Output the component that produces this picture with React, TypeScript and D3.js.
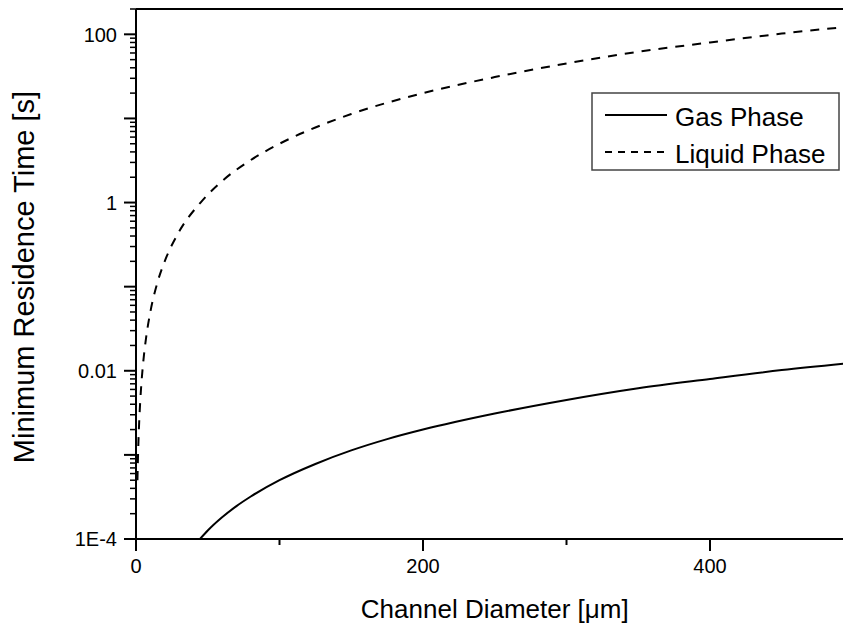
import { useEffect, useRef } from 'react';
import * as d3 from 'd3';

// values
const gasDiameter = [44.6, 50, 60, 70, 80, 100, 125, 150, 175, 200, 250, 300, 350, 400, 450, 500];
const gasTime = [1.0e-4, 1.26e-4, 1.81e-4, 2.46e-4, 3.2e-4, 5.0e-4, 7.8e-4, 1.13e-3, 1.54e-3, 2.0e-3, 3.1e-3, 4.5e-3, 6.2e-3, 8.0e-3, 1.02e-2, 1.25e-2];

const liquidDiameter = [1, 1.5, 2, 3, 4, 5, 7, 10, 15, 20, 30, 45, 60, 80, 100, 125, 150, 200, 250, 300, 350, 400, 450, 500];
const liquidTime = [5.0e-4, 1.13e-3, 2.0e-3, 4.5e-3, 8.0e-3, 1.25e-2, 2.45e-2, 5.0e-2, 0.113, 0.2, 0.45, 1.0, 1.8, 3.2, 5.0, 7.8, 11.3, 20, 31, 45, 62, 80, 102, 125];

const xTicks = [0, 200, 400];
const xMinorTicks = [100, 300];
const yLabelTicks = [1e-4, 1e-2, 1, 100];
const yTickText = ['1E-4', '0.01', '1', '100'];
const legendNames = ['Gas Phase', 'Liquid Phase'];

const FONT = '"Liberation Sans", Arial, sans-serif';

export default function App() {
  const ref = useRef<SVGSVGElement | null>(null);

  useEffect(() => {
    if (!ref.current) return;
    const svg = d3.select(ref.current);
    svg.selectAll('*').remove();

    const left = 136, top = 9, bottom = 539, right = 853.5;

    const x = d3.scaleLinear().domain([0, 500]).range([left, right]);
    const y = d3.scaleLog().domain([1e-4, 200]).range([bottom, top]);

    const g = svg.append('g');

    // clip so curves stay in the frame
    svg.append('defs').append('clipPath').attr('id', 'plot-clip')
      .append('rect').attr('x', left).attr('y', top).attr('width', right - left).attr('height', bottom - top);

    const line = d3.line<[number, number]>()
      .x(d => x(d[0]))
      .y(d => y(d[1]))
      .curve(d3.curveMonotoneX);

    const gasPts = gasDiameter.map((d, i) => [d, gasTime[i]] as [number, number]);
    const liqPts = liquidDiameter.map((d, i) => [d, liquidTime[i]] as [number, number]);

    const curves = g.append('g').attr('clip-path', 'url(#plot-clip)');
    curves.append('path')
      .attr('d', line(gasPts))
      .attr('fill', 'none')
      .attr('stroke', '#000')
      .attr('stroke-width', 2);
    curves.append('path')
      .attr('d', line(liqPts))
      .attr('fill', 'none')
      .attr('stroke', '#000')
      .attr('stroke-width', 2)
      .attr('stroke-dasharray', '9,8');

    // frame
    g.append('line').attr('x1', left).attr('x2', right).attr('y1', top).attr('y2', top)
      .attr('stroke', '#000').attr('stroke-width', 2);
    g.append('line').attr('x1', right).attr('x2', right).attr('y1', top).attr('y2', bottom)
      .attr('stroke', '#000').attr('stroke-width', 2);

    // x axis
    const xAxis = g.append('g').attr('transform', `translate(0,${bottom})`);
    xAxis.append('line').attr('x1', left).attr('x2', right)
      .attr('stroke', '#000').attr('stroke-width', 2);
    xAxis.selectAll('.xmaj').data(xTicks).enter().append('line')
      .attr('x1', d => x(d)).attr('x2', d => x(d)).attr('y1', 0).attr('y2', 12)
      .attr('stroke', '#000').attr('stroke-width', 2);
    xAxis.selectAll('.xmin').data(xMinorTicks).enter().append('line')
      .attr('x1', d => x(d)).attr('x2', d => x(d)).attr('y1', 0).attr('y2', 6)
      .attr('stroke', '#000').attr('stroke-width', 2);
    xAxis.selectAll('.xlab').data(xTicks).enter().append('text')
      .attr('x', d => x(d)).attr('y', 34)
      .attr('text-anchor', 'middle')
      .style('font-family', FONT).style('font-size', '20px')
      .text(d => String(d));

    // y axis
    const yAxis = g.append('g').attr('transform', `translate(${left},0)`);
    yAxis.append('line').attr('y1', top).attr('y2', bottom + 12)
      .attr('stroke', '#000').attr('stroke-width', 2);
    const majors: number[] = [];
    const minors: number[] = [];
    for (let k = -4; k <= 2; k++) {
      majors.push(Math.pow(10, k));
      for (let m = 2; m <= 9; m++) {
        const v = m * Math.pow(10, k);
        if (v <= 200) minors.push(v);
      }
    }
    yAxis.selectAll('.ymaj').data(majors).enter().append('line')
      .attr('x1', -12).attr('x2', 0).attr('y1', d => y(d)).attr('y2', d => y(d))
      .attr('stroke', '#000').attr('stroke-width', 2);
    yAxis.selectAll('.ymin').data(minors).enter().append('line')
      .attr('x1', -6).attr('x2', 0).attr('y1', d => y(d)).attr('y2', d => y(d))
      .attr('stroke', '#000').attr('stroke-width', 1.5);
    yAxis.selectAll('.ylab').data(yLabelTicks).enter().append('text')
      .attr('x', -19).attr('y', d => y(d)).attr('dy', '0.36em')
      .attr('text-anchor', 'end')
      .style('font-family', FONT).style('font-size', '20px')
      .text((d, i) => yTickText[i]);

    // axis titles
    g.append('text')
      .attr('x', (left + right) / 2).attr('y', 618)
      .attr('text-anchor', 'middle')
      .style('font-family', FONT).style('font-size', '26px')
      .text('Channel Diameter [\u03bcm]');
    g.append('text')
      .attr('transform', `translate(34,277) rotate(-90)`)
      .attr('text-anchor', 'middle')
      .style('font-family', FONT).style('font-size', '29px')
      .text('Minimum Residence Time [s]');

    // legend
    const lg = g.append('g');
    lg.append('rect').attr('x', 592).attr('y', 93).attr('width', 247).attr('height', 77)
      .attr('fill', '#fff').attr('stroke', '#444').attr('stroke-width', 1.5);
    const rows = [115, 152];
    legendNames.forEach((name, i) => {
      lg.append('line').attr('x1', 605).attr('x2', 667).attr('y1', rows[i]).attr('y2', rows[i])
        .attr('stroke', '#000').attr('stroke-width', 2)
        .attr('stroke-dasharray', i === 1 ? '7,6' : null);
      lg.append('text').attr('x', 675).attr('y', rows[i] + 11)
        .style('font-family', FONT).style('font-size', '26px')
        .text(name);
    });
  }, []);

  return (
    <div style={{ position: 'absolute', left: 0, top: 0 }}>
      <svg ref={ref} width={843} height={625} style={{ display: 'block', background: '#fff' }} />
    </div>
  );
}
